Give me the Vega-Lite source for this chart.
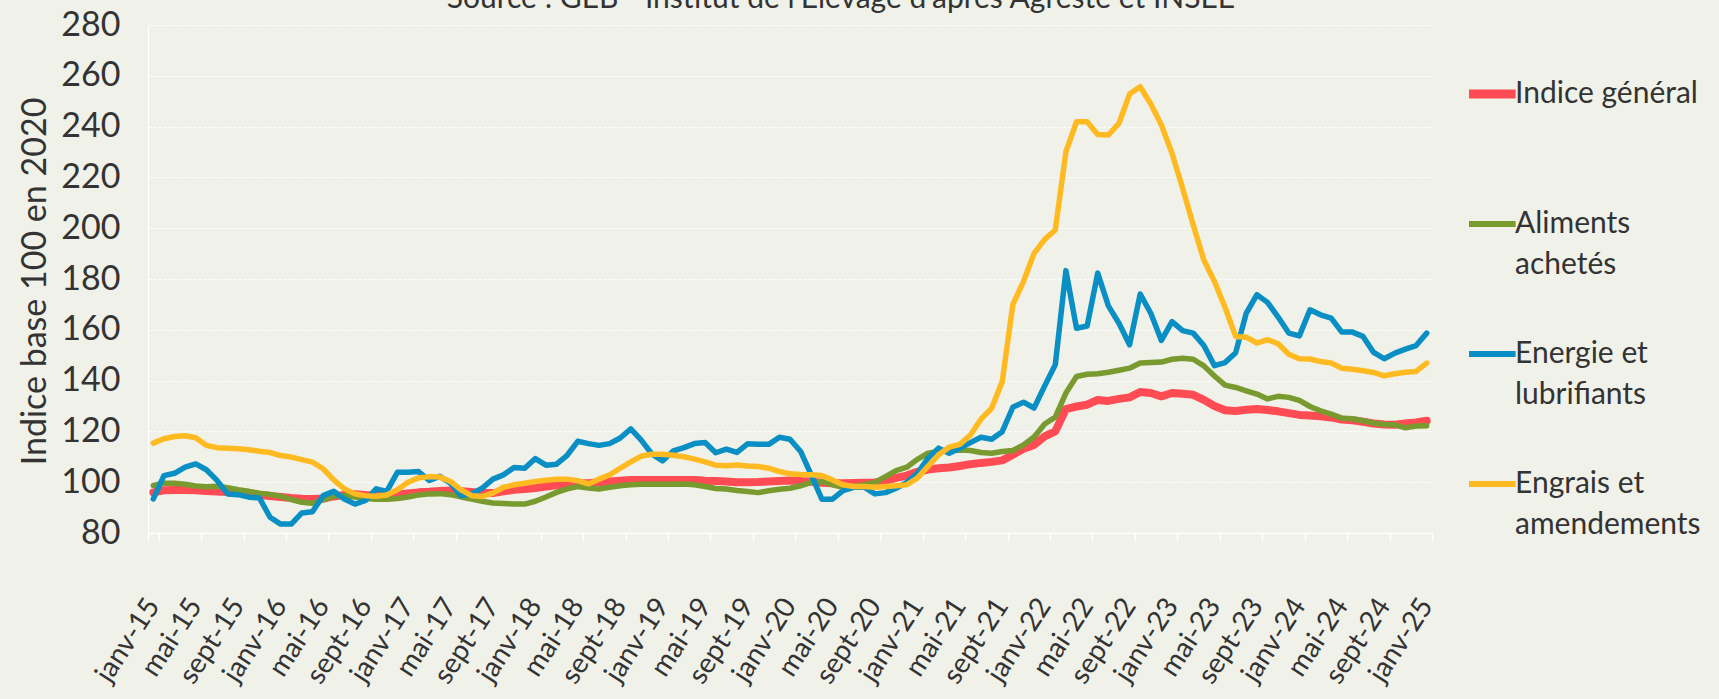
{
  "$schema": "https://vega.github.io/schema/vega-lite/v6.json",
  "width": 1284,
  "height": 508,
  "autosize": {"type": "none"},
  "padding": {"left": 148, "top": 25, "right": 287, "bottom": 166},
  "background": "#f0f1e9",
  "title": {
    "text": "Source : GEB - Institut de l'Elevage d'après Agreste et INSEE",
    "anchor": "middle",
    "frame": "group",
    "baseline": "alphabetic",
    "offset": 0,
    "dx": 51,
    "dy": 30,
    "fontSize": 30,
    "font": "Lato",
    "fontWeight": "normal",
    "color": "#333333"
  },
  "config": {"view": {"stroke": null}, "font": "Lato"},
  "data": {
    "values": [
      {"mois": "janv-15", "Indice général": 96.0, "Aliments achetés": 98.7, "Energie et lubrifiants": 93.4, "Engrais et amendements": 115.4},
      {"mois": "févr-15", "Indice général": 96.8, "Aliments achetés": 99.6, "Energie et lubrifiants": 102.6, "Engrais et amendements": 117.1},
      {"mois": "mars-15", "Indice général": 96.9, "Aliments achetés": 99.6, "Energie et lubrifiants": 103.5, "Engrais et amendements": 118.0},
      {"mois": "avr-15", "Indice général": 96.9, "Aliments achetés": 99.2, "Energie et lubrifiants": 105.9, "Engrais et amendements": 118.3},
      {"mois": "mai-15", "Indice général": 96.8, "Aliments achetés": 98.5, "Energie et lubrifiants": 107.2, "Engrais et amendements": 117.5},
      {"mois": "juin-15", "Indice général": 96.5, "Aliments achetés": 98.2, "Energie et lubrifiants": 104.9, "Engrais et amendements": 114.5},
      {"mois": "juil-15", "Indice général": 96.3, "Aliments achetés": 98.4, "Energie et lubrifiants": 100.7, "Engrais et amendements": 113.6},
      {"mois": "août-15", "Indice général": 96.1, "Aliments achetés": 97.8, "Energie et lubrifiants": 95.4, "Engrais et amendements": 113.4},
      {"mois": "sept-15", "Indice général": 95.8, "Aliments achetés": 97.0, "Energie et lubrifiants": 95.1, "Engrais et amendements": 113.2},
      {"mois": "oct-15", "Indice général": 95.5, "Aliments achetés": 96.4, "Energie et lubrifiants": 94.1, "Engrais et amendements": 112.8},
      {"mois": "nov-15", "Indice général": 95.0, "Aliments achetés": 95.7, "Energie et lubrifiants": 93.8, "Engrais et amendements": 112.2},
      {"mois": "déc-15", "Indice général": 94.6, "Aliments achetés": 95.2, "Energie et lubrifiants": 86.2, "Engrais et amendements": 111.7},
      {"mois": "janv-16", "Indice général": 94.2, "Aliments achetés": 94.4, "Energie et lubrifiants": 83.5, "Engrais et amendements": 110.5},
      {"mois": "févr-16", "Indice général": 93.8, "Aliments achetés": 93.2, "Energie et lubrifiants": 83.5, "Engrais et amendements": 109.9},
      {"mois": "mars-16", "Indice général": 93.5, "Aliments achetés": 92.1, "Energie et lubrifiants": 87.9, "Engrais et amendements": 108.9},
      {"mois": "avr-16", "Indice général": 93.4, "Aliments achetés": 91.7, "Energie et lubrifiants": 88.4, "Engrais et amendements": 107.9},
      {"mois": "mai-16", "Indice général": 93.6, "Aliments achetés": 93.0, "Energie et lubrifiants": 94.7, "Engrais et amendements": 105.3},
      {"mois": "juin-16", "Indice général": 94.4, "Aliments achetés": 94.5, "Energie et lubrifiants": 96.4, "Engrais et amendements": 100.9},
      {"mois": "juil-16", "Indice général": 95.0, "Aliments achetés": 94.8, "Energie et lubrifiants": 93.4, "Engrais et amendements": 97.4},
      {"mois": "août-16", "Indice général": 95.3, "Aliments achetés": 94.2, "Energie et lubrifiants": 91.4, "Engrais et amendements": 95.4},
      {"mois": "sept-16", "Indice général": 95.0, "Aliments achetés": 93.6, "Energie et lubrifiants": 92.8, "Engrais et amendements": 94.7},
      {"mois": "oct-16", "Indice général": 94.8, "Aliments achetés": 93.3, "Energie et lubrifiants": 97.4, "Engrais et amendements": 94.5},
      {"mois": "nov-16", "Indice général": 94.8, "Aliments achetés": 93.3, "Energie et lubrifiants": 96.4, "Engrais et amendements": 95.0},
      {"mois": "déc-16", "Indice général": 95.2, "Aliments achetés": 93.6, "Energie et lubrifiants": 103.9, "Engrais et amendements": 97.0},
      {"mois": "janv-17", "Indice général": 95.6, "Aliments achetés": 94.2, "Energie et lubrifiants": 103.9, "Engrais et amendements": 100.0},
      {"mois": "févr-17", "Indice général": 96.0, "Aliments achetés": 95.0, "Energie et lubrifiants": 104.2, "Engrais et amendements": 101.7},
      {"mois": "mars-17", "Indice général": 96.2, "Aliments achetés": 95.4, "Energie et lubrifiants": 100.7, "Engrais et amendements": 102.2},
      {"mois": "avr-17", "Indice général": 96.5, "Aliments achetés": 95.5, "Energie et lubrifiants": 102.3, "Engrais et amendements": 102.0},
      {"mois": "mai-17", "Indice général": 96.7, "Aliments achetés": 95.1, "Energie et lubrifiants": 99.6, "Engrais et amendements": 100.3},
      {"mois": "juin-17", "Indice général": 96.4, "Aliments achetés": 94.2, "Energie et lubrifiants": 94.7, "Engrais et amendements": 97.0},
      {"mois": "juil-17", "Indice général": 96.1, "Aliments achetés": 93.4, "Energie et lubrifiants": 95.4, "Engrais et amendements": 94.7},
      {"mois": "août-17", "Indice général": 95.7, "Aliments achetés": 92.5, "Energie et lubrifiants": 97.7, "Engrais et amendements": 94.4},
      {"mois": "sept-17", "Indice général": 95.7, "Aliments achetés": 91.8, "Energie et lubrifiants": 101.2, "Engrais et amendements": 95.7},
      {"mois": "oct-17", "Indice général": 96.4, "Aliments achetés": 91.6, "Energie et lubrifiants": 102.9, "Engrais et amendements": 98.0},
      {"mois": "nov-17", "Indice général": 97.0, "Aliments achetés": 91.4, "Energie et lubrifiants": 105.8, "Engrais et amendements": 99.0},
      {"mois": "déc-17", "Indice général": 97.3, "Aliments achetés": 91.4, "Energie et lubrifiants": 105.5, "Engrais et amendements": 99.6},
      {"mois": "janv-18", "Indice général": 97.7, "Aliments achetés": 92.5, "Energie et lubrifiants": 109.3, "Engrais et amendements": 100.3},
      {"mois": "févr-18", "Indice général": 98.3, "Aliments achetés": 94.2, "Energie et lubrifiants": 106.7, "Engrais et amendements": 100.8},
      {"mois": "mars-18", "Indice général": 98.8, "Aliments achetés": 96.0, "Energie et lubrifiants": 107.1, "Engrais et amendements": 101.2},
      {"mois": "avr-18", "Indice général": 99.2, "Aliments achetés": 97.4, "Energie et lubrifiants": 110.6, "Engrais et amendements": 101.2},
      {"mois": "mai-18", "Indice général": 99.6, "Aliments achetés": 98.3, "Energie et lubrifiants": 116.1, "Engrais et amendements": 100.6},
      {"mois": "juin-18", "Indice général": 99.6, "Aliments achetés": 97.7, "Energie et lubrifiants": 115.2, "Engrais et amendements": 99.3},
      {"mois": "juil-18", "Indice général": 100.0, "Aliments achetés": 97.3, "Energie et lubrifiants": 114.5, "Engrais et amendements": 101.2},
      {"mois": "août-18", "Indice général": 100.3, "Aliments achetés": 98.0, "Energie et lubrifiants": 115.2, "Engrais et amendements": 102.9},
      {"mois": "sept-18", "Indice général": 100.6, "Aliments achetés": 98.6, "Energie et lubrifiants": 117.4, "Engrais et amendements": 105.5},
      {"mois": "oct-18", "Indice général": 100.9, "Aliments achetés": 99.0, "Energie et lubrifiants": 121.0, "Engrais et amendements": 108.0},
      {"mois": "nov-18", "Indice général": 100.9, "Aliments achetés": 99.2, "Energie et lubrifiants": 116.5, "Engrais et amendements": 110.3},
      {"mois": "déc-18", "Indice général": 100.9, "Aliments achetés": 99.2, "Energie et lubrifiants": 111.0, "Engrais et amendements": 111.0},
      {"mois": "janv-19", "Indice général": 100.9, "Aliments achetés": 99.2, "Energie et lubrifiants": 108.4, "Engrais et amendements": 111.0},
      {"mois": "févr-19", "Indice général": 100.9, "Aliments achetés": 99.2, "Energie et lubrifiants": 112.3, "Engrais et amendements": 110.6},
      {"mois": "mars-19", "Indice général": 100.9, "Aliments achetés": 99.3, "Energie et lubrifiants": 113.6, "Engrais et amendements": 110.0},
      {"mois": "avr-19", "Indice général": 100.9, "Aliments achetés": 99.0, "Energie et lubrifiants": 115.2, "Engrais et amendements": 109.1},
      {"mois": "mai-19", "Indice général": 100.6, "Aliments achetés": 98.3, "Energie et lubrifiants": 115.6, "Engrais et amendements": 108.0},
      {"mois": "juin-19", "Indice général": 100.5, "Aliments achetés": 97.5, "Energie et lubrifiants": 111.6, "Engrais et amendements": 106.7},
      {"mois": "juil-19", "Indice général": 100.3, "Aliments achetés": 97.3, "Energie et lubrifiants": 113.0, "Engrais et amendements": 106.5},
      {"mois": "août-19", "Indice général": 100.0, "Aliments achetés": 96.7, "Energie et lubrifiants": 111.7, "Engrais et amendements": 106.8},
      {"mois": "sept-19", "Indice général": 100.0, "Aliments achetés": 96.3, "Energie et lubrifiants": 115.1, "Engrais et amendements": 106.4},
      {"mois": "oct-19", "Indice général": 100.1, "Aliments achetés": 95.9, "Energie et lubrifiants": 114.9, "Engrais et amendements": 106.2},
      {"mois": "nov-19", "Indice général": 100.3, "Aliments achetés": 96.6, "Energie et lubrifiants": 114.9, "Engrais et amendements": 105.5},
      {"mois": "déc-19", "Indice général": 100.5, "Aliments achetés": 97.2, "Energie et lubrifiants": 117.7, "Engrais et amendements": 104.2},
      {"mois": "janv-20", "Indice général": 100.7, "Aliments achetés": 97.6, "Energie et lubrifiants": 116.9, "Engrais et amendements": 103.3},
      {"mois": "févr-20", "Indice général": 100.5, "Aliments achetés": 98.6, "Energie et lubrifiants": 112.1, "Engrais et amendements": 103.0},
      {"mois": "mars-20", "Indice général": 100.2, "Aliments achetés": 99.9, "Energie et lubrifiants": 102.9, "Engrais et amendements": 102.9},
      {"mois": "avr-20", "Indice général": 99.8, "Aliments achetés": 100.3, "Energie et lubrifiants": 93.3, "Engrais et amendements": 102.6},
      {"mois": "mai-20", "Indice général": 99.6, "Aliments achetés": 99.0, "Energie et lubrifiants": 93.3, "Engrais et amendements": 100.9},
      {"mois": "juin-20", "Indice général": 99.6, "Aliments achetés": 98.0, "Energie et lubrifiants": 96.7, "Engrais et amendements": 99.0},
      {"mois": "juil-20", "Indice général": 99.7, "Aliments achetés": 98.3, "Energie et lubrifiants": 98.0, "Engrais et amendements": 98.3},
      {"mois": "août-20", "Indice général": 99.8, "Aliments achetés": 99.0, "Energie et lubrifiants": 98.0, "Engrais et amendements": 98.3},
      {"mois": "sept-20", "Indice général": 99.9, "Aliments achetés": 99.9, "Energie et lubrifiants": 95.4, "Engrais et amendements": 98.0},
      {"mois": "oct-20", "Indice général": 100.5, "Aliments achetés": 102.2, "Energie et lubrifiants": 95.9, "Engrais et amendements": 98.3},
      {"mois": "nov-20", "Indice général": 101.7, "Aliments achetés": 104.6, "Energie et lubrifiants": 97.6, "Engrais et amendements": 98.6},
      {"mois": "déc-20", "Indice général": 102.6, "Aliments achetés": 105.9, "Energie et lubrifiants": 99.9, "Engrais et amendements": 99.0},
      {"mois": "janv-21", "Indice général": 104.1, "Aliments achetés": 109.0, "Energie et lubrifiants": 103.5, "Engrais et amendements": 101.6},
      {"mois": "févr-21", "Indice général": 105.0, "Aliments achetés": 111.4, "Energie et lubrifiants": 109.4, "Engrais et amendements": 106.2},
      {"mois": "mars-21", "Indice général": 105.5, "Aliments achetés": 112.1, "Energie et lubrifiants": 113.4, "Engrais et amendements": 110.8},
      {"mois": "avr-21", "Indice général": 105.8, "Aliments achetés": 112.5, "Energie et lubrifiants": 111.4, "Engrais et amendements": 113.8},
      {"mois": "mai-21", "Indice général": 106.4, "Aliments achetés": 112.7, "Energie et lubrifiants": 113.4, "Engrais et amendements": 114.9},
      {"mois": "juin-21", "Indice général": 107.1, "Aliments achetés": 112.5, "Energie et lubrifiants": 115.6, "Engrais et amendements": 118.6},
      {"mois": "juil-21", "Indice général": 107.6, "Aliments achetés": 111.7, "Energie et lubrifiants": 117.7, "Engrais et amendements": 124.8},
      {"mois": "août-21", "Indice général": 108.0, "Aliments achetés": 111.4, "Energie et lubrifiants": 116.9, "Engrais et amendements": 129.1},
      {"mois": "sept-21", "Indice général": 108.6, "Aliments achetés": 112.1, "Energie et lubrifiants": 119.9, "Engrais et amendements": 139.6},
      {"mois": "oct-21", "Indice général": 110.8, "Aliments achetés": 112.5, "Energie et lubrifiants": 129.5, "Engrais et amendements": 170.0},
      {"mois": "nov-21", "Indice général": 113.2, "Aliments achetés": 114.7, "Energie et lubrifiants": 131.5, "Engrais et amendements": 179.0},
      {"mois": "déc-21", "Indice général": 114.7, "Aliments achetés": 117.8, "Energie et lubrifiants": 129.2, "Engrais et amendements": 190.1},
      {"mois": "janv-22", "Indice général": 118.0, "Aliments achetés": 122.9, "Energie et lubrifiants": 137.9, "Engrais et amendements": 195.6},
      {"mois": "févr-22", "Indice général": 120.0, "Aliments achetés": 125.6, "Energie et lubrifiants": 146.2, "Engrais et amendements": 199.3},
      {"mois": "mars-22", "Indice général": 128.8, "Aliments achetés": 135.1, "Energie et lubrifiants": 183.3, "Engrais et amendements": 230.1},
      {"mois": "avr-22", "Indice général": 129.8, "Aliments achetés": 141.6, "Energie et lubrifiants": 160.6, "Engrais et amendements": 241.9},
      {"mois": "mai-22", "Indice général": 130.5, "Aliments achetés": 142.5, "Energie et lubrifiants": 161.5, "Engrais et amendements": 241.9},
      {"mois": "juin-22", "Indice général": 132.4, "Aliments achetés": 142.7, "Energie et lubrifiants": 182.3, "Engrais et amendements": 236.9},
      {"mois": "juil-22", "Indice général": 132.0, "Aliments achetés": 143.3, "Energie et lubrifiants": 169.4, "Engrais et amendements": 236.7},
      {"mois": "août-22", "Indice général": 132.8, "Aliments achetés": 144.1, "Energie et lubrifiants": 162.6, "Engrais et amendements": 241.3},
      {"mois": "sept-22", "Indice général": 133.4, "Aliments achetés": 144.9, "Energie et lubrifiants": 154.1, "Engrais et amendements": 252.8},
      {"mois": "oct-22", "Indice général": 135.5, "Aliments achetés": 146.9, "Energie et lubrifiants": 174.1, "Engrais et amendements": 255.7},
      {"mois": "nov-22", "Indice général": 135.1, "Aliments achetés": 147.1, "Energie et lubrifiants": 166.5, "Engrais et amendements": 248.9},
      {"mois": "déc-22", "Indice général": 133.8, "Aliments achetés": 147.3, "Energie et lubrifiants": 155.8, "Engrais et amendements": 240.6},
      {"mois": "janv-23", "Indice général": 135.1, "Aliments achetés": 148.4, "Energie et lubrifiants": 163.2, "Engrais et amendements": 229.5},
      {"mois": "févr-23", "Indice général": 134.8, "Aliments achetés": 148.8, "Energie et lubrifiants": 159.7, "Engrais et amendements": 215.7},
      {"mois": "mars-23", "Indice général": 134.4, "Aliments achetés": 148.4, "Energie et lubrifiants": 158.7, "Engrais et amendements": 201.3},
      {"mois": "avr-23", "Indice général": 132.4, "Aliments achetés": 145.8, "Energie et lubrifiants": 153.8, "Engrais et amendements": 187.5},
      {"mois": "mai-23", "Indice général": 130.0, "Aliments achetés": 141.8, "Energie et lubrifiants": 145.9, "Engrais et amendements": 179.0},
      {"mois": "juin-23", "Indice général": 128.3, "Aliments achetés": 138.2, "Energie et lubrifiants": 147.1, "Engrais et amendements": 168.8},
      {"mois": "juil-23", "Indice général": 128.0, "Aliments achetés": 137.3, "Energie et lubrifiants": 151.0, "Engrais et amendements": 157.4},
      {"mois": "août-23", "Indice général": 128.5, "Aliments achetés": 136.0, "Energie et lubrifiants": 166.6, "Engrais et amendements": 157.1},
      {"mois": "sept-23", "Indice général": 128.8, "Aliments achetés": 134.7, "Energie et lubrifiants": 173.8, "Engrais et amendements": 154.8},
      {"mois": "oct-23", "Indice général": 128.4, "Aliments achetés": 132.8, "Energie et lubrifiants": 170.8, "Engrais et amendements": 156.1},
      {"mois": "nov-23", "Indice général": 127.9, "Aliments achetés": 133.8, "Energie et lubrifiants": 165.0, "Engrais et amendements": 154.5},
      {"mois": "déc-23", "Indice général": 127.2, "Aliments achetés": 133.4, "Energie et lubrifiants": 158.7, "Engrais et amendements": 150.4},
      {"mois": "janv-24", "Indice général": 126.5, "Aliments achetés": 132.2, "Energie et lubrifiants": 157.6, "Engrais et amendements": 148.6},
      {"mois": "févr-24", "Indice général": 126.3, "Aliments achetés": 129.8, "Energie et lubrifiants": 167.9, "Engrais et amendements": 148.5},
      {"mois": "mars-24", "Indice général": 126.0, "Aliments achetés": 128.1, "Energie et lubrifiants": 165.9, "Engrais et amendements": 147.5},
      {"mois": "avr-24", "Indice général": 125.5, "Aliments achetés": 126.8, "Energie et lubrifiants": 164.6, "Engrais et amendements": 146.9},
      {"mois": "mai-24", "Indice général": 124.7, "Aliments achetés": 125.2, "Energie et lubrifiants": 159.1, "Engrais et amendements": 144.9},
      {"mois": "juin-24", "Indice général": 124.4, "Aliments achetés": 125.0, "Energie et lubrifiants": 159.1, "Engrais et amendements": 144.5},
      {"mois": "juil-24", "Indice général": 123.8, "Aliments achetés": 124.2, "Energie et lubrifiants": 157.4, "Engrais et amendements": 143.9},
      {"mois": "août-24", "Indice général": 123.1, "Aliments achetés": 123.3, "Energie et lubrifiants": 151.1, "Engrais et amendements": 143.2},
      {"mois": "sept-24", "Indice général": 122.7, "Aliments achetés": 122.7, "Energie et lubrifiants": 148.6, "Engrais et amendements": 141.9},
      {"mois": "oct-24", "Indice général": 122.6, "Aliments achetés": 122.6, "Energie et lubrifiants": 150.8, "Engrais et amendements": 142.7},
      {"mois": "nov-24", "Indice général": 123.1, "Aliments achetés": 121.4, "Energie et lubrifiants": 152.4, "Engrais et amendements": 143.3},
      {"mois": "déc-24", "Indice général": 123.5, "Aliments achetés": 122.1, "Energie et lubrifiants": 153.8, "Engrais et amendements": 143.6},
      {"mois": "janv-25", "Indice général": 124.2, "Aliments achetés": 122.2, "Energie et lubrifiants": 158.7, "Engrais et amendements": 146.9}
    ]
  },
  "transform": [
    {"fold": ["Indice général", "Aliments achetés", "Energie et lubrifiants", "Engrais et amendements"], "as": ["serie", "valeur"]}
  ],
  "encoding": {
    "x": {
      "field": "mois",
      "type": "ordinal",
      "sort": null,
      "scale": {"type": "band", "paddingInner": 0, "paddingOuter": 0},
      "axis": {
        "title": null,
        "values": ["janv-15", "mai-15", "sept-15", "janv-16", "mai-16", "sept-16", "janv-17", "mai-17", "sept-17", "janv-18", "mai-18", "sept-18", "janv-19", "mai-19", "sept-19", "janv-20", "mai-20", "sept-20", "janv-21", "mai-21", "sept-21", "janv-22", "mai-22", "sept-22", "janv-23", "mai-23", "sept-23", "janv-24", "mai-24", "sept-24", "janv-25"],
        "labelAngle": -57,
        "labelAlign": "right",
        "labelBaseline": "middle",
        "labelFontSize": 28,
        "labelColor": "#333333",
        "labelPadding": 60,
        "labelFlush": false,
        "labelOverlap": false,
        "tickBand": "extent",
        "tickColor": "#ffffff",
        "tickSize": 8,
        "tickWidth": 1.5,
        "domainColor": "#ffffff",
        "domainWidth": 1.5,
        "grid": false
      }
    },
    "y": {
      "field": "valeur",
      "type": "quantitative",
      "scale": {"domain": [80, 280], "nice": false, "zero": false},
      "axis": {
        "title": "Indice base 100 en 2020",
        "values": [80, 100, 120, 140, 160, 180, 200, 220, 240, 260, 280],
        "grid": true,
        "gridColor": "#ffffff",
        "gridDash": [3, 2],
        "gridWidth": 1.2,
        "domain": true,
        "domainColor": "#ffffff",
        "domainWidth": 1.2,
        "ticks": false,
        "labelPadding": 28,
        "labelFontSize": 34,
        "labelColor": "#333333",
        "titleFontSize": 34,
        "titleFontWeight": "normal",
        "titleColor": "#333333",
        "titleAngle": -90,
        "titleX": -103,
        "titleY": 256,
        "titleAlign": "center",
        "titleBaseline": "alphabetic"
      }
    },
    "color": {
      "field": "serie",
      "type": "nominal",
      "scale": {
        "domain": ["Indice général", "Aliments achetés", "Energie et lubrifiants", "Engrais et amendements"],
        "range": ["#ff4b53", "#789a2e", "#0a8fc4", "#ffba22"]
      },
      "legend": {
        "title": null,
        "orient": "none",
        "legendX": 1321,
        "legendY": 4,
        "direction": "vertical",
        "padding": 0,
        "symbolType": "stroke",
        "symbolSize": 4000,
        "symbolStrokeWidth": 6,
        "labelFontSize": 30,
        "labelColor": "#333333",
        "labelOffset": 16,
        "labelLimit": 400,
        "clipHeight": 130,
        "rowPadding": 0,
        "labelExpr": "datum.label == 'Aliments achetés' ? ['Aliments', 'achetés'] : datum.label == 'Energie et lubrifiants' ? ['Energie et', 'lubrifiants'] : datum.label == 'Engrais et amendements' ? ['Engrais et', 'amendements'] : datum.label",
        "encode": {
          "labels": {"update": {"lineHeight": {"value": 41}}},
          "symbols": {"update": {"strokeWidth": {"signal": "datum.value === 'Indice général' ? 9 : 6"}}}
        }
      }
    }
  },
  "layer": [
    {
      "transform": [{"filter": "datum.serie === 'Indice général'"}],
      "mark": {"type": "line", "strokeWidth": 8, "strokeJoin": "round", "strokeCap": "round"}
    },
    {
      "transform": [{"filter": "datum.serie !== 'Indice général'"}],
      "mark": {"type": "line", "strokeWidth": 5.5, "strokeJoin": "round", "strokeCap": "round"}
    }
  ]
}
